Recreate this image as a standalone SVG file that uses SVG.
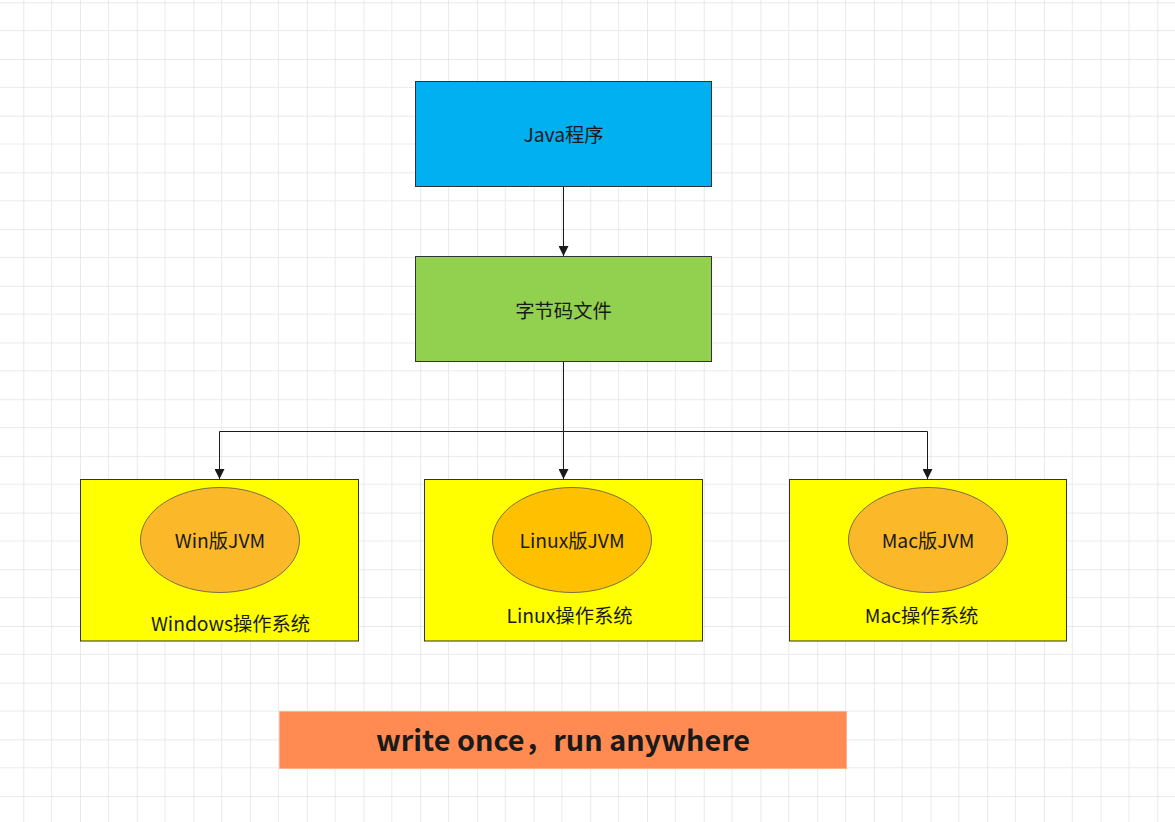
<svg xmlns="http://www.w3.org/2000/svg" width="1175" height="822" viewBox="0 0 1175 822">
  <defs>
    <pattern id="grid" patternUnits="userSpaceOnUse" x="23.3" y="2.3" width="56.7" height="56.7">
      <path d="M28.35 0V56.7M0 28.35H56.7" stroke="#ebebeb" stroke-width="1" fill="none"/>
      <path d="M0 0V56.7M0 0H56.7" stroke="#d6d6d6" stroke-width="1" fill="none"/>
    </pattern>
    <marker id="arrow" viewBox="0 0 10 10" refX="10" refY="5" markerWidth="10" markerHeight="10" markerUnits="userSpaceOnUse" orient="auto">
      <path d="M0 0L10 5L0 10Z" fill="#1a1a1a"/>
    </marker>
    <style>
      .box { stroke: #333333; stroke-width: 1; }
      .ell { stroke: #555555; stroke-width: 0.8; }
      .t { font-family: "Microsoft YaHei", "Noto Sans CJK SC", sans-serif; font-size: 19.3px; fill: #1a1a1a; text-anchor: middle; dominant-baseline: central; }
      .b { font-family: "Microsoft YaHei", "Noto Sans CJK SC", sans-serif; font-size: 28.8px; font-weight: bold; fill: #1a1a1a; text-anchor: middle; dominant-baseline: central; }
      .c { stroke: #1a1a1a; stroke-width: 1; fill: none; }
    </style>
  </defs>
  <rect width="1175" height="822" fill="#ffffff"/>
  <rect width="1175" height="822" fill="url(#grid)"/>

  <g id="connectors">
    <path class="c" d="M563.5 186.5V256" marker-end="url(#arrow)"/>
    <path class="c" d="M563.5 361.5V431.5H219.5V479" marker-end="url(#arrow)"/>
    <path class="c" d="M563.5 431.5V479" marker-end="url(#arrow)"/>
    <path class="c" d="M563.5 431.5H927.5V479" marker-end="url(#arrow)"/>
  </g>

  <g id="java">
    <rect class="box" x="415.5" y="81.5" width="296" height="105" fill="#00b0f0"/>
    <text class="t" x="563.5" y="134">Java程序</text>
  </g>
  <g id="bytecode">
    <rect class="box" x="415.5" y="256.5" width="296" height="105" fill="#92d050"/>
    <text class="t" x="563.5" y="310">字节码文件</text>
  </g>

  <g id="windows">
    <rect class="box" x="80.5" y="479.5" width="278" height="161.5" fill="#ffff00"/>
    <text class="t" x="230.5" y="623">Windows操作系统</text>
  </g>
  <g id="winjvm">
    <ellipse class="ell" cx="220" cy="540" rx="79.5" ry="52.5" fill="#fbb829"/>
    <text class="t" x="220" y="540">Win版JVM</text>
  </g>

  <g id="linux">
    <rect class="box" x="424.5" y="479.5" width="278" height="161.5" fill="#ffff00"/>
    <text class="t" x="569.5" y="615">Linux操作系统</text>
  </g>
  <g id="linuxjvm">
    <ellipse class="ell" cx="572" cy="540" rx="79.5" ry="52.5" fill="#ffc000"/>
    <text class="t" x="572" y="540">Linux版JVM</text>
  </g>

  <g id="mac">
    <rect class="box" x="789.5" y="479.5" width="277" height="161.5" fill="#ffff00"/>
    <text class="t" x="921.5" y="615">Mac操作系统</text>
  </g>
  <g id="macjvm">
    <ellipse class="ell" cx="928" cy="540" rx="79.5" ry="52.5" fill="#fbb829"/>
    <text class="t" x="928" y="540">Mac版JVM</text>
  </g>

  <g id="slogan">
    <rect x="279.5" y="711.5" width="567" height="57" fill="#ff8b52" stroke="#ffb08a" stroke-width="1"/>
    <text class="b" x="563" y="738.5">write once，run anywhere</text>
  </g>
</svg>
